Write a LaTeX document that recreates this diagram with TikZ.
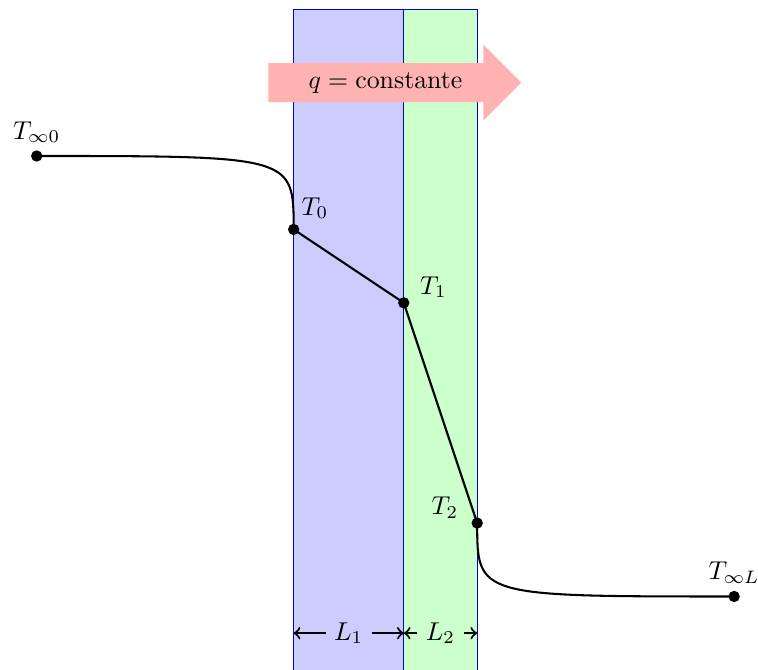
\documentclass[tikz,border=0pt]{standalone}
\usetikzlibrary{calc}
\begin{document}
\begin{tikzpicture}[x=0.5cm,y=0.5cm,
  dot/.style={circle,fill=black,inner sep=0pt,minimum size=4.4pt},
  lbl/.style={inner sep=0pt},
  wall/.style={draw=blue!85!black,line width=0.4pt},
  curve/.style={thick,line cap=round},
  dim/.style={thick,<->}]
\useasboundingbox (-1,-14) rectangle (19.65,4.25);
% walls
\fill[blue!20] (7,-14) rectangle (10,4);
\fill[green!20] (10,-14) rectangle (12,4);
\draw[wall] (7,-14) -- (7,4) -- (12,4) -- (12,-14);
\draw[wall] (10,4) -- (10,-14);
% heat flux arrow
\fill[red!30] (6.31,2.53) -- (12.17,2.53) -- (12.17,3.03) -- (13.2,2.0)
  -- (12.17,0.97) -- (12.17,1.47) -- (6.31,1.47) -- cycle;
\node (q) at (9.5,2.0) {$q = \mbox{constante}$};
% points
\node[dot] (tinf0) at (0,0) {};
\node[dot] (t0) at (7,-2) {};
\node[dot] (t1) at (10,-4) {};
\node[dot] (t2) at (12,-10) {};
\node[dot] (tinfL) at (19,-12) {};
% labels
\node[lbl,anchor=base] (ltinf0) at ($(tinf0)+(0,0.46)$) {$T_{\infty0}$};
\node[lbl,anchor=base west] (lt0) at ($(t0)+(0.2,0.39)$) {$T_0$};
\node[lbl,anchor=base west] (lt1) at ($(t1)+(0.43,0.24)$) {$T_1$};
\node[lbl,anchor=base east] (lt2) at ($(t2)+(-0.5,0.22)$) {$T_2$};
\node[lbl,anchor=base] (ltinfL) at ($(tinfL)+(0,0.45)$) {$T_{\infty L}$};
% temperature profile
\draw[curve] (tinf0.center) .. controls (7,0) and (7,0) .. (t0.center)
  -- (t1.center) -- (t2.center)
  .. controls (12,-12) and (12,-12) .. (tinfL.center);
% dimensions
\coordinate (d0) at (7,-13);
\coordinate (d1) at (10,-13);
\coordinate (d2) at (12,-13);
\draw[dim] (d0) -- node[fill=blue!20] (L1) {$L_1$} (d1);
\draw[dim] (d1) -- node[fill=green!20] (L2) {$L_2$} (d2);
\end{tikzpicture}
\end{document}
